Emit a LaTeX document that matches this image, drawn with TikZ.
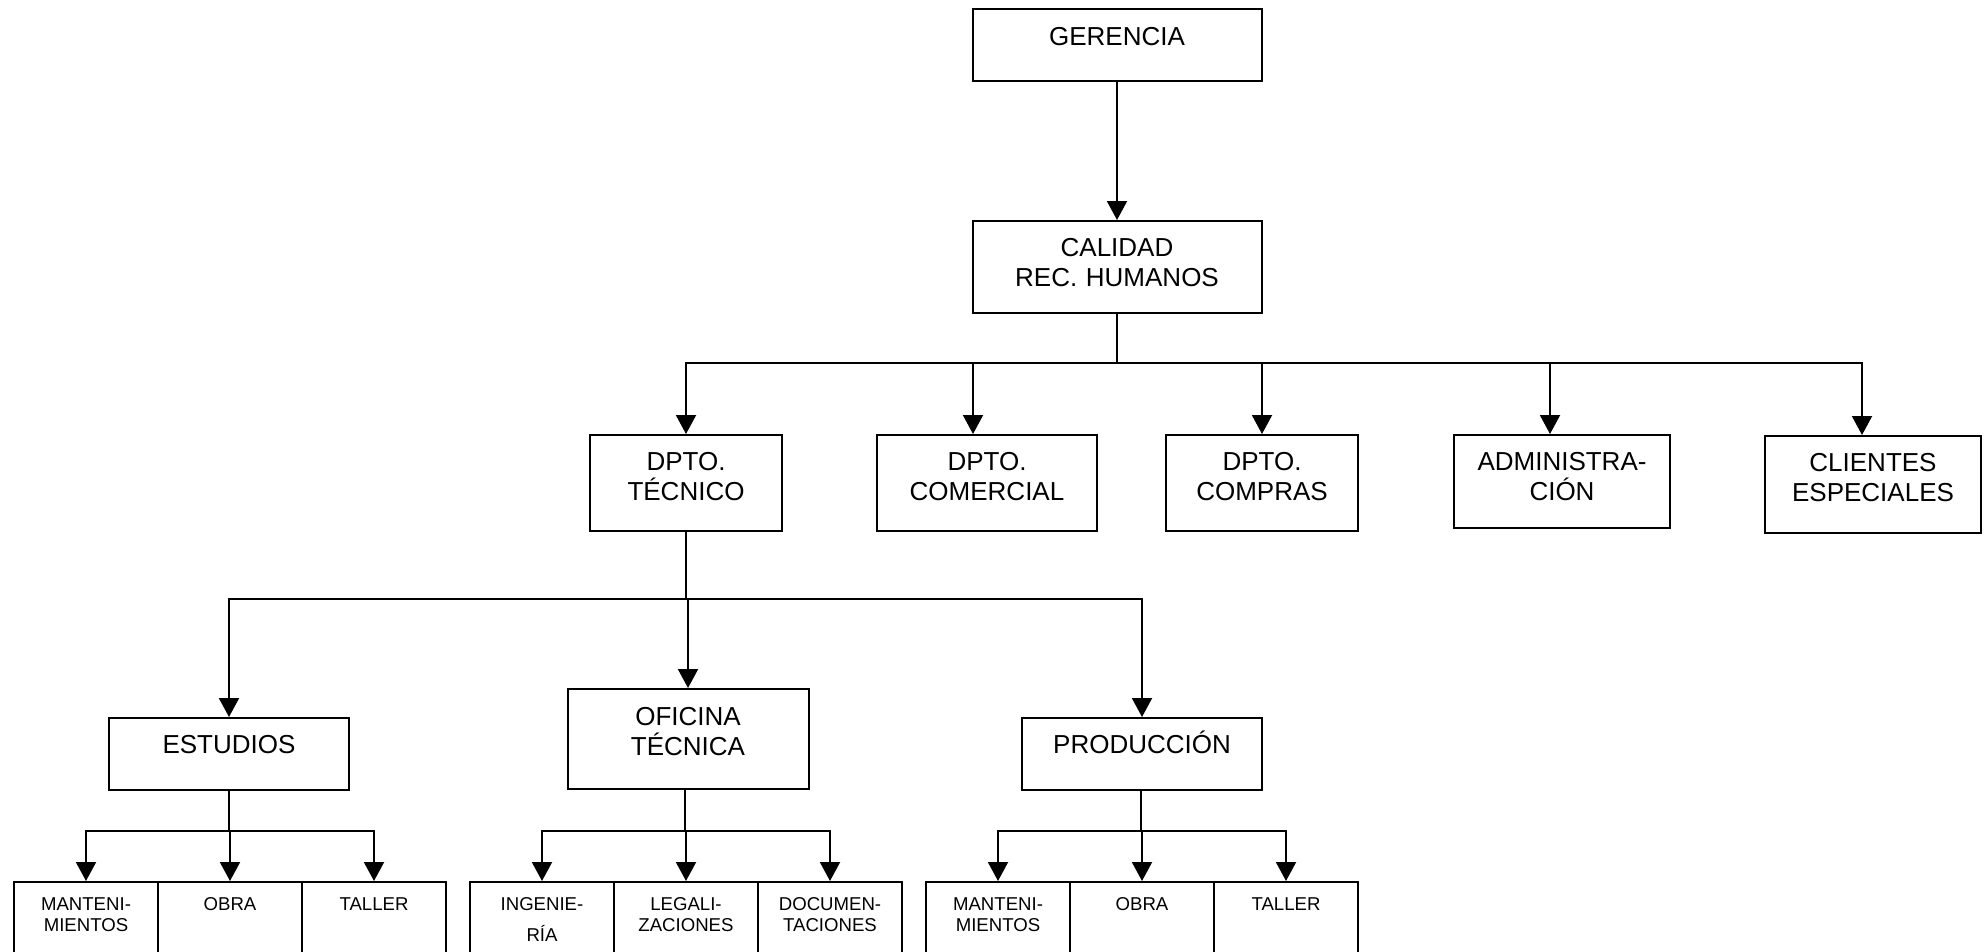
\documentclass[tikz,border=0pt]{standalone}
\usepackage{fontspec}
\setmainfont{Liberation Sans}
\usepackage{tikz}
\usetikzlibrary{arrows.meta}

\begin{document}
\begin{tikzpicture}[x=1pt, y=-1pt, line width=2pt, >={Triangle[width=20pt,length=19pt]}]
  \tikzstyle{unit}=[rectangle, draw, anchor=north, inner sep=0pt, align=center, font=\fontsize{26}{30}\selectfont, text height=35pt]
  \tikzstyle{subunit}=[unit, anchor=north west, font=\fontsize{18.6}{21}\selectfont, text width=144pt, text height=28pt, text depth=80pt]
  \useasboundingbox (0,0) rectangle (1984,951);

  \node[unit, text width=289pt, text height=36pt, text depth=36pt] (gerencia) at (1117,8) {GERENCIA};
  \node[unit, text width=289pt, text depth=57pt] (calidad) at (1117,220) {CALIDAD\\REC. HUMANOS};
  \draw[->] (gerencia) -- (calidad);

  % departamentos
  \node[unit, text width=192pt, text depth=61pt] (tecnico) at (686,434) {DPTO.\\TÉCNICO};
  \node[unit, text width=220pt, text depth=61pt] (comercial) at (987,434) {DPTO.\\COMERCIAL};
  \node[unit, text width=192pt, text depth=61pt] (compras) at (1262,434) {DPTO.\\COMPRAS};
  \node[unit, text width=216pt, text depth=58pt] (admin) at (1562,434) {ADMINISTRA-\\CIÓN};
  \node[unit, text width=216pt, text depth=62pt] (clientes) at (1873,435) {CLIENTES\\ESPECIALES};
  \coordinate (bus1) at (1117,363);
  \draw (calidad) -- (bus1);
  \foreach \n/\s in {tecnico/0, comercial/-14, compras/0, admin/-12, clientes/-11}
    \draw[<-] ([xshift=\s]\n.north) |- (bus1);

  % dpto. tecnico
  \node[unit, text width=240pt, text depth=37pt] (estudios) at (229,717) {ESTUDIOS};
  \node[unit, text width=241pt, text height=36pt, text depth=64pt] (oficina) at (688,688) {OFICINA\\TÉCNICA};
  \node[unit, text width=240pt, text depth=37pt] (produccion) at (1142,717) {PRODUCCIÓN};
  \coordinate (bus2) at (686,599);
  \draw (tecnico) -- (bus2);
  \foreach \n in {estudios, oficina, produccion}
    \draw[<-] (\n.north) |- (bus2);

  \node[subunit] (mant1) at (13,881) {MANTENI-\\MIENTOS};
  \node[subunit] (obra1) at (157,881) {OBRA};
  \node[subunit] (taller1) at (301,881) {TALLER};
  \node[subunit] (ing) at (469,881) {INGENIE-\\[10pt]RÍA};
  \node[subunit] (legal) at (613,881) {LEGALI-\\ZACIONES};
  \node[subunit] (docu) at (757,881) {DOCUMEN-\\TACIONES};
  \node[subunit] (mant2) at (925,881) {MANTENI-\\MIENTOS};
  \node[subunit] (obra2) at (1069,881) {OBRA};
  \node[subunit] (taller2) at (1213,881) {TALLER};
  \coordinate (bus3) at (229,831);
  \coordinate (bus4) at (685,831);
  \coordinate (bus5) at (1141,831);
  \draw (estudios.south -| bus3) -- (bus3);
  \draw (oficina.south -| bus4) -- (bus4);
  \draw (produccion.south -| bus5) -- (bus5);
  \foreach \n in {mant1, obra1, taller1}
    \draw[<-] (\n.north) |- (bus3);
  \foreach \n in {ing, legal, docu}
    \draw[<-] (\n.north) |- (bus4);
  \foreach \n in {mant2, obra2, taller2}
    \draw[<-] (\n.north) |- (bus5);
\end{tikzpicture}
\end{document}
